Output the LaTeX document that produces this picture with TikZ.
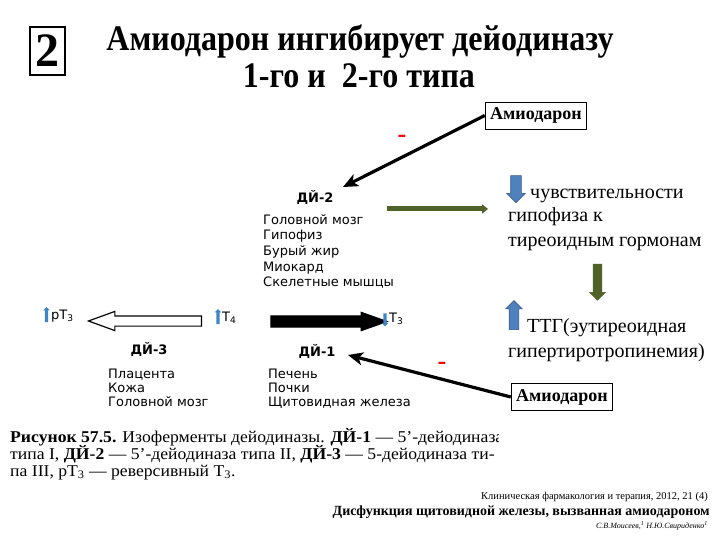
\documentclass[tikz,border=0pt]{standalone}
\usepackage{fontspec}
\setmainfont{Liberation Serif}
\newfontfamily\scanfont{DejaVu Sans}
\usetikzlibrary{shapes.arrows,arrows.meta}
\definecolor{offblue}{HTML}{4F81BD}
\definecolor{offblueline}{HTML}{385D8A}
\definecolor{olive}{HTML}{4F6228}
\definecolor{scanblue}{HTML}{3D85C6}
\begin{document}
\begin{tikzpicture}[x=1pt,y=-1pt,
  scan/.style={font=\scanfont\fontsize{13}{15}\selectfont, inner sep=0pt},
  scanb/.style={font=\scanfont\bfseries\fontsize{13}{15}\selectfont, inner sep=0pt},
  side/.style={font=\fontsize{20}{24}\selectfont, inner sep=0pt, anchor=base west},
  ambox/.style={draw, line width=0.8pt, font=\bfseries\fontsize{18}{20}\selectfont, inner xsep=5pt, inner ysep=0pt, minimum height=27pt},
  amline/.style={line width=3.2pt, -{Stealth[length=15pt,width=13pt,inset=4pt]}},
  minus/.style={text=red, font=\bfseries\fontsize{26}{26}\selectfont, inner sep=0pt},
  blockblue/.style={single arrow, draw=offblueline, fill=offblue, line width=0.6pt, inner sep=5pt, single arrow head extend=4pt},
  blockgreen/.style={single arrow, draw=olive, fill=olive, line width=0.6pt, inner sep=4pt, single arrow head extend=3.5pt},
  smallblue/.style={single arrow, fill=scanblue, draw=none, inner sep=1.5pt, single arrow head extend=1.5pt},
  bigarrow/.style={single arrow, draw=black, line width=1.2pt, inner sep=4.5pt, single arrow head extend=4.5pt, single arrow tip angle=40},
  titlefont/.style={anchor=base, inner sep=0pt, font=\bfseries\fontsize{36}{40}\selectfont},
  capfont/.style={anchor=base west, inner sep=0pt, font=\fontsize{16.5}{17}\selectfont},
]
\useasboundingbox (0,0) rectangle (720,540);
\fill[white] (0,0) rectangle (720,540);

% number box and title
\node[draw, line width=2.5pt, minimum width=35pt, minimum height=48pt, inner sep=0pt,
      font=\bfseries\fontsize{48}{48}\selectfont] (num) at (47.5,51) {2};
\node[titlefont] (t1) at (360,51) {\scalebox{0.89}[1]{Амиодарон ингибирует дейодиназу}};
\node[titlefont] (t2) at (359,88) {\scalebox{0.89}[1]{1-го и\ \ 2-го типа}};

% amiodarone boxes
\node[ambox] (am1) at (536,115.5) {Амиодарон};
\node[ambox] (am2) at (562,397) {Амиодарон};
\coordinate (tip1) at (343,187);
\coordinate (tip2) at (348,355);
\draw[amline] (am1.west) -- (tip1);
\draw[amline] (am2.west) -- (tip2);
\node[minus] (m1) at (402,139) {-};
\node[minus] (m2) at (442,366) {-};

% DI-2 block
\node[scanb] (d2) at (315,197) {ДЙ-2};
\node[scan, anchor=base west] (d2a) at (263,225) {Головной мозг};
\node[scan, anchor=base west] (d2b) at (263,240) {Гипофиз};
\node[scan, anchor=base west] (d2c) at (263,255.5) {Бурый жир};
\node[scan, anchor=base west] (d2d) at (263,271) {Миокард};
\node[scan, anchor=base west] (d2e) at (263,286) {Скелетные мышцы};

% green arrow to the right
\coordinate (g1) at (387,209);
\coordinate (g2) at (488,209);
\draw[olive, line width=5pt, -{Triangle[length=6pt,width=9pt]}] (g1) -- (g2);

% right texts
\node[blockblue, minimum width=18pt, minimum height=27pt, shape border rotate=270] (bd) at (516,186.5) {};
\node[side] (s1) at (530,199) {чувствительности};
\node[side] (s2) at (508,222) {гипофиза к};
\node[side] (s3) at (508,246) {тиреоидным гормонам};
\node[blockgreen, minimum width=15pt, minimum height=36pt, shape border rotate=270] (gd) at (597.5,280) {};
\node[blockblue, minimum width=16pt, minimum height=29pt, inner sep=4.5pt, single arrow head extend=3.5pt, shape border rotate=90] (bu) at (514,317.5) {};
\node[side] (s4) at (527,332) {ТТГ(эутиреоидная};
\node[side] (s5) at (508,357) {гипертиротропинемия)};

% row of arrows
\node[smallblue, minimum height=15pt, shape border rotate=90] (u1) at (46.5,315.5) {};
\node[scan, anchor=west] (rt3) at (51,316) {рТ\textsubscript{3}};
\node[bigarrow, fill=white, minimum height=113pt, shape border rotate=180] (hol) at (152,321) {};
\node[smallblue, minimum height=15pt, shape border rotate=90] (u2) at (218,317.5) {};
\node[scan, anchor=west] (t4) at (222,318) {Т\textsubscript{4}};
\node[bigarrow, fill=black, minimum height=116pt, inner sep=5pt, single arrow head extend=3.5pt, single arrow tip angle=39] (blk) at (321,321.5) {};
\node[smallblue, minimum height=13pt, shape border rotate=270] (dn) at (385,319) {};
\node[scan, anchor=west] (t3) at (389,319) {Т\textsubscript{3}};

% DI-3 and DI-1
\node[scanb] (d3) at (149,349) {ДЙ-3};
\node[scan, anchor=base west] (d3a) at (108,378) {Плацента};
\node[scan, anchor=base west] (d3b) at (108,392) {Кожа};
\node[scan, anchor=base west] (d3c) at (108,406) {Головной мозг};
\node[scanb] (d1) at (317,351) {ДЙ-1};
\node[scan, anchor=base west] (d1a) at (268,378) {Печень};
\node[scan, anchor=base west] (d1b) at (268,392) {Почки};
\node[scan, anchor=base west] (d1c) at (268,406) {Щитовидная железа};

% caption (cropped at the right)
\begin{scope}
\clip (0,424) rectangle (498,485);
\node[capfont] (c1) at (10,442) {\scalebox{1.07}[1]{\textbf{Рисунок 57.5.} Изоферменты дейодиназы. \textbf{ДЙ-1} — 5'-дейодиназа}};
\node[capfont] (c2) at (10,459) {\scalebox{1.07}[1]{типа I, \textbf{ДЙ-2} — 5'-дейодиназа типа II, \textbf{ДЙ-3} — 5-дейодиназа ти-}};
\node[capfont] (c3) at (10,476) {\scalebox{1.07}[1]{па III, рТ\textsubscript{3} — реверсивный Т\textsubscript{3}.}};
\end{scope}

% citation
\node[anchor=base east, inner sep=0pt, font=\fontsize{10.5}{12}\selectfont] (r1) at (708,499) {Клиническая фармакология и терапия, 2012, 21 (4)};
\node[anchor=base east, inner sep=0pt, font=\bfseries\fontsize{14}{16}\selectfont] (r2) at (710,515) {Дисфункция щитовидной железы, вызванная амиодароном};
\node[anchor=base east, inner sep=0pt, font=\itshape\fontsize{8}{10}\selectfont] (r3) at (708,528) {С.В.Моисеев,\textsuperscript{1} Н.Ю.Свириденко\textsuperscript{1}};
\end{tikzpicture}
\end{document}
